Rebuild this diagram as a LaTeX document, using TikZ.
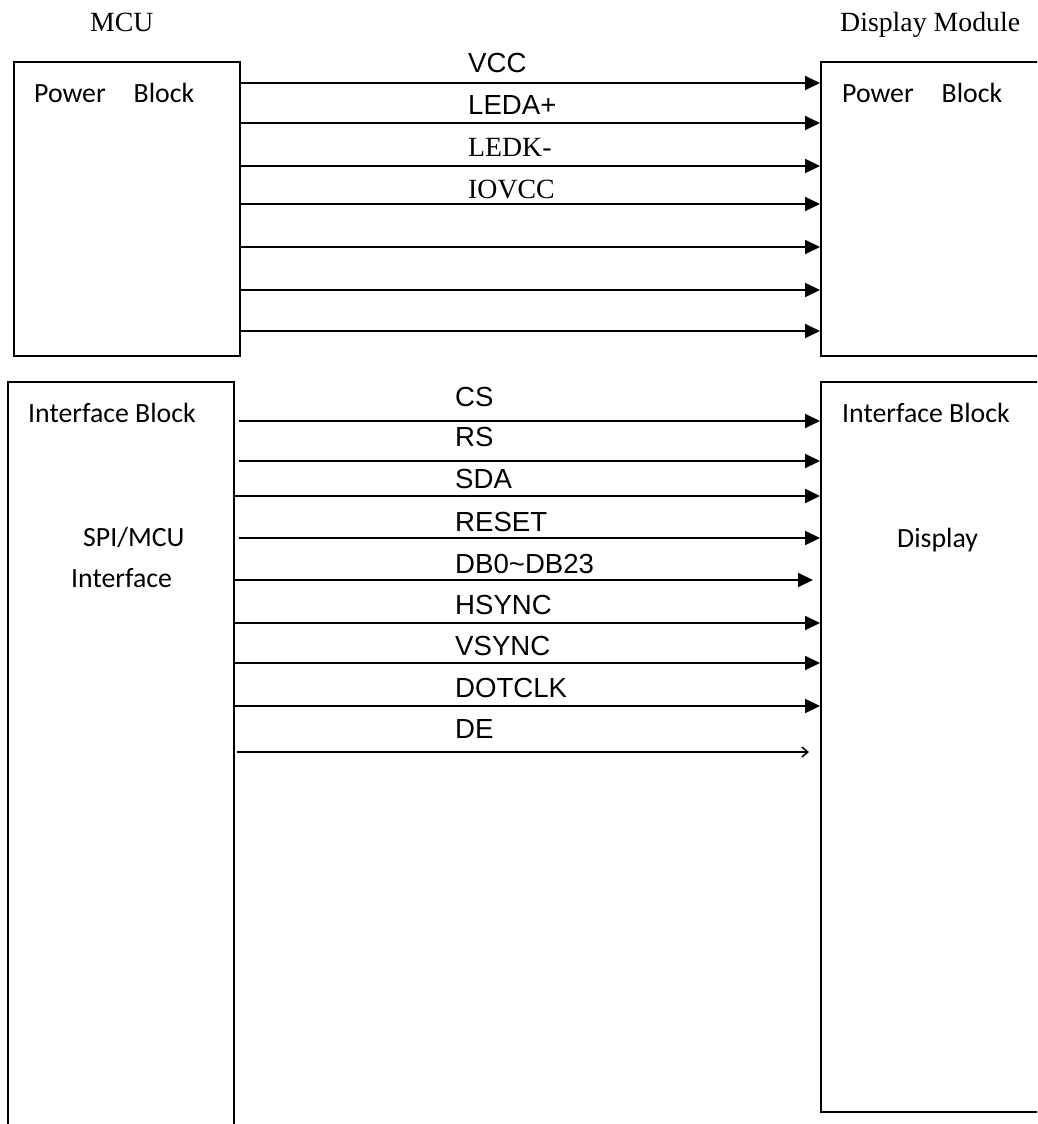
\documentclass[tikz,border=0pt]{standalone}
\usepackage{fontspec}
\setmainfont{Liberation Serif}
\newfontfamily\arialf{Liberation Sans}
\newfontfamily\calf{Carlito}
\usetikzlibrary{arrows.meta}
\begin{document}
\begin{tikzpicture}[x=1pt,y=-1pt,
  box/.style={draw,line width=2pt,inner sep=0pt,anchor=north west},
  sig/.style={line width=2pt,-{Triangle[length=15pt,width=14pt]}},
  opensig/.style={line width=2pt,-{Straight Barb[length=6pt,width=10pt,line width=1.5pt]}},
  lab/.style={font=\arialf\fontsize{27.6}{33}\selectfont,inner sep=0pt,anchor=base west},
  tlab/.style={font=\fontsize{27.8}{33}\selectfont,inner sep=0pt,anchor=base west},
  clab/.style={font=\calf\fontsize{27.8}{33}\selectfont,inner sep=0pt,anchor=base west}]
\useasboundingbox (0,0) rectangle (1037,1124);
\clip (0,0) rectangle (1037,1124);

% blocks
\node[box,minimum width=226pt,minimum height=294pt] (pl) at (13,61) {};
\node[box,minimum width=240pt,minimum height=294pt] (pr) at (820,61) {};
\node[box,minimum width=226pt,minimum height=780pt] (il) at (7,381) {};
\node[box,minimum width=240pt,minimum height=730pt] (ir) at (820,381) {};

% titles
\node[tlab] (mcu) at (90,32) {MCU};
\node[tlab] (dm) at (840,32) {Display Module};
\node[clab] (plt) at (34,102) {Power\hspace{28pt}Block};
\node[clab] (prt) at (842,102) {Power\hspace{28pt}Block};
\node[clab] (ilt) at (28,422) {Interface Block};
\node[clab] (irt) at (842,422) {Interface Block};
\node[clab] (spi) at (83,546) {SPI/MCU};
\node[clab] (ifc) at (71,587) {Interface};
\node[clab] (dsp) at (897,547) {Display};

% power signals
\foreach \y in {83,123,166,204,247,290,331}
  \draw[sig] (pl.east |- 0,\y) -- (pr.west |- 0,\y);
\node[lab]  (vcc)   at (468,72)  {VCC};
\node[lab]  (leda)  at (468,114) {LEDA+};
\node[tlab] (ledk)  at (468,156) {LEDK-};
\node[tlab] (iovcc) at (468,198) {IOVCC};

% interface signals
\coordinate (csS) at (239,421);
\coordinate (rsS) at (239,461);
\coordinate (rstS) at (239,538);
\coordinate (dbE) at (813,580);
\coordinate (deS) at (237,752);
\coordinate (deE) at (809,752);
\draw[sig] (csS) -- (ir.west |- csS);
\draw[sig] (rsS) -- (ir.west |- rsS);
\draw[sig] (il.east |- 0,496) -- (ir.west |- 0,496);
\draw[sig] (rstS) -- (ir.west |- rstS);
\draw[sig] (il.east |- dbE) -- (dbE);
\draw[sig] (il.east |- 0,623) -- (ir.west |- 0,623);
\draw[sig] (il.east |- 0,663) -- (ir.west |- 0,663);
\draw[sig] (il.east |- 0,706) -- (ir.west |- 0,706);
\draw[opensig] (deS) -- (deE);

\node[lab] (cs)  at (455,406) {CS};
\node[lab] (rs)  at (455,446) {RS};
\node[lab] (sda) at (455,488) {SDA};
\node[lab] (rst) at (455,531) {RESET};
\node[lab] (db)  at (455,573) {DB0\textasciitilde DB23};
\node[lab] (hs)  at (455,614) {HSYNC};
\node[lab] (vs)  at (455,655) {VSYNC};
\node[lab] (dc)  at (455,697) {DOTCLK};
\node[lab] (de)  at (455,738) {DE};
\end{tikzpicture}
\end{document}
